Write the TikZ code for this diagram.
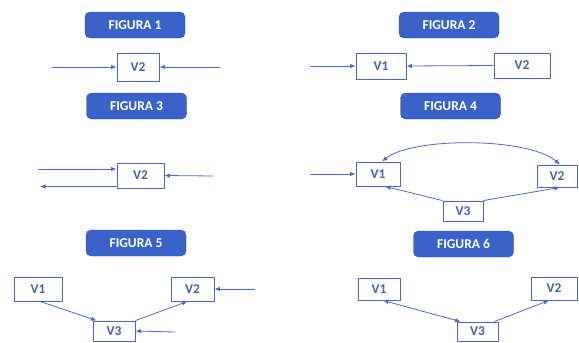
\documentclass[tikz,border=0pt]{standalone}
\usepackage{fontspec}
\setmainfont{Carlito}
\usetikzlibrary{arrows.meta}
\definecolor{tagblue}{HTML}{3A62C8}
\definecolor{boxblue}{HTML}{4A66C8}
\definecolor{txtblue}{HTML}{4A5FB0}
\definecolor{lineblue}{HTML}{4A6BD0}
\tikzset{
  tag/.style={draw=tagblue!85!black, fill=tagblue, rounded corners=5pt, text=white,
    font=\fontsize{13.5}{13.5}\selectfont\bfseries, minimum width=100pt, minimum height=26pt, inner sep=0pt},
  vbox/.style={draw=boxblue, line width=0.9pt, fill=white, text=txtblue,
    font=\fontsize{13.5}{13.5}\selectfont\bfseries, inner sep=0pt},
  conn/.style={draw=lineblue, line width=0.8pt, -{Latex[length=5.5pt,width=4.5pt]}},
  conn2/.style={draw=lineblue, line width=0.8pt, {Latex[length=5.5pt,width=4.5pt]}-{Latex[length=5.5pt,width=4.5pt]}},
  back/.style={draw=lineblue, line width=0.8pt, {Latex[length=5.5pt,width=4.5pt]}-}
}
\begin{document}
\begin{tikzpicture}[x=1pt,y=-1pt]
\useasboundingbox (0,0) rectangle (579,343);

% titles
\node[tag] (t1) at (135,25) {FIGURA 1};
\node[tag] (t2) at (449,25) {FIGURA 2};
\node[tag] (t3) at (136.5,106) {FIGURA 3};
\node[tag] (t4) at (450.5,106) {FIGURA 4};
\node[tag] (t5) at (136,243) {FIGURA 5};
\node[tag] (t6) at (463.5,244) {FIGURA 6};

% figure 1
\node[vbox, minimum width=42pt, minimum height=28pt] (a2) at (138,67) {V2};
\coordinate (a2l) at (52,67);
\coordinate (a2r) at (220,67);
\draw[conn] (a2l) -- (a2.west);
\draw[conn] (a2r) -- (a2.east);

% figure 2
\node[vbox, minimum width=50pt, minimum height=26pt] (b1) at (381,66) {V1};
\node[vbox, minimum width=56pt, minimum height=25pt] (b2) at (522,65.5) {V2};
\coordinate (b1l) at (310,66);
\draw[conn] (b1l) -- (b1.west);
\draw[conn] (b2.west) -- (b1.east);

% figure 3
\node[vbox, minimum width=47pt, minimum height=25pt] (c2) at (140.5,175.5) {V2};
\coordinate (c2a) at (38,169);
\coordinate (c2b) at (40,186.5);
\coordinate (c2r) at (213,176);
\draw[conn] (c2a) -- (c2a -| c2.west);
\draw[back] (c2b) -- (c2b -| c2.west);
\draw[conn] (c2r) -- (c2.east);

% figure 4
\node[vbox, minimum width=44pt, minimum height=24pt] (d1) at (378,174) {V1};
\node[vbox, minimum width=40pt, minimum height=22pt] (d2) at (557,176) {V2};
\node[vbox, minimum width=40pt, minimum height=20pt] (d3) at (463,211) {V3};
\coordinate (d1l) at (310,174);
\draw[conn] (d1l) -- (d1.west);
\draw[conn2] ([xshift=4pt]d1.north) .. controls (412,137) and (528,137) .. ([xshift=3pt]d2.north);
\draw[conn] (d3.north west) -- ([xshift=7pt]d1.south);
\draw[conn] (d3.north east) -- ([xshift=3pt]d2.south);

% figure 5
\node[vbox, minimum width=48pt, minimum height=24pt] (e1) at (38,289) {V1};
\node[vbox, minimum width=43pt, minimum height=24pt] (e2) at (192.5,289) {V2};
\node[vbox, minimum width=42pt, minimum height=20pt] (e3) at (114,331) {V3};
\coordinate (e2r) at (255,289);
\coordinate (e3r) at (175,332);
\draw[conn] ([xshift=2pt]e1.south) -- ([xshift=4pt]e3.north west);
\draw[conn] (e3.north east) -- ([xshift=-5pt]e2.south);
\draw[conn] (e2r) -- (e2.east);
\draw[conn] (e3r) -- (e3.east);

% figure 6
\node[vbox, minimum width=42pt, minimum height=22pt] (f1) at (379,289) {V1};
\node[vbox, minimum width=46pt, minimum height=23pt] (f2) at (554,288.5) {V2};
\node[vbox, minimum width=41pt, minimum height=19pt] (f3) at (477.5,331.5) {V3};
\draw[conn2] ([xshift=4pt]f1.south) -- ([xshift=4pt]f3.north west);
\draw[conn] ([xshift=-4pt]f3.north east) -- ([xshift=-5pt]f2.south);
\end{tikzpicture}
\end{document}
